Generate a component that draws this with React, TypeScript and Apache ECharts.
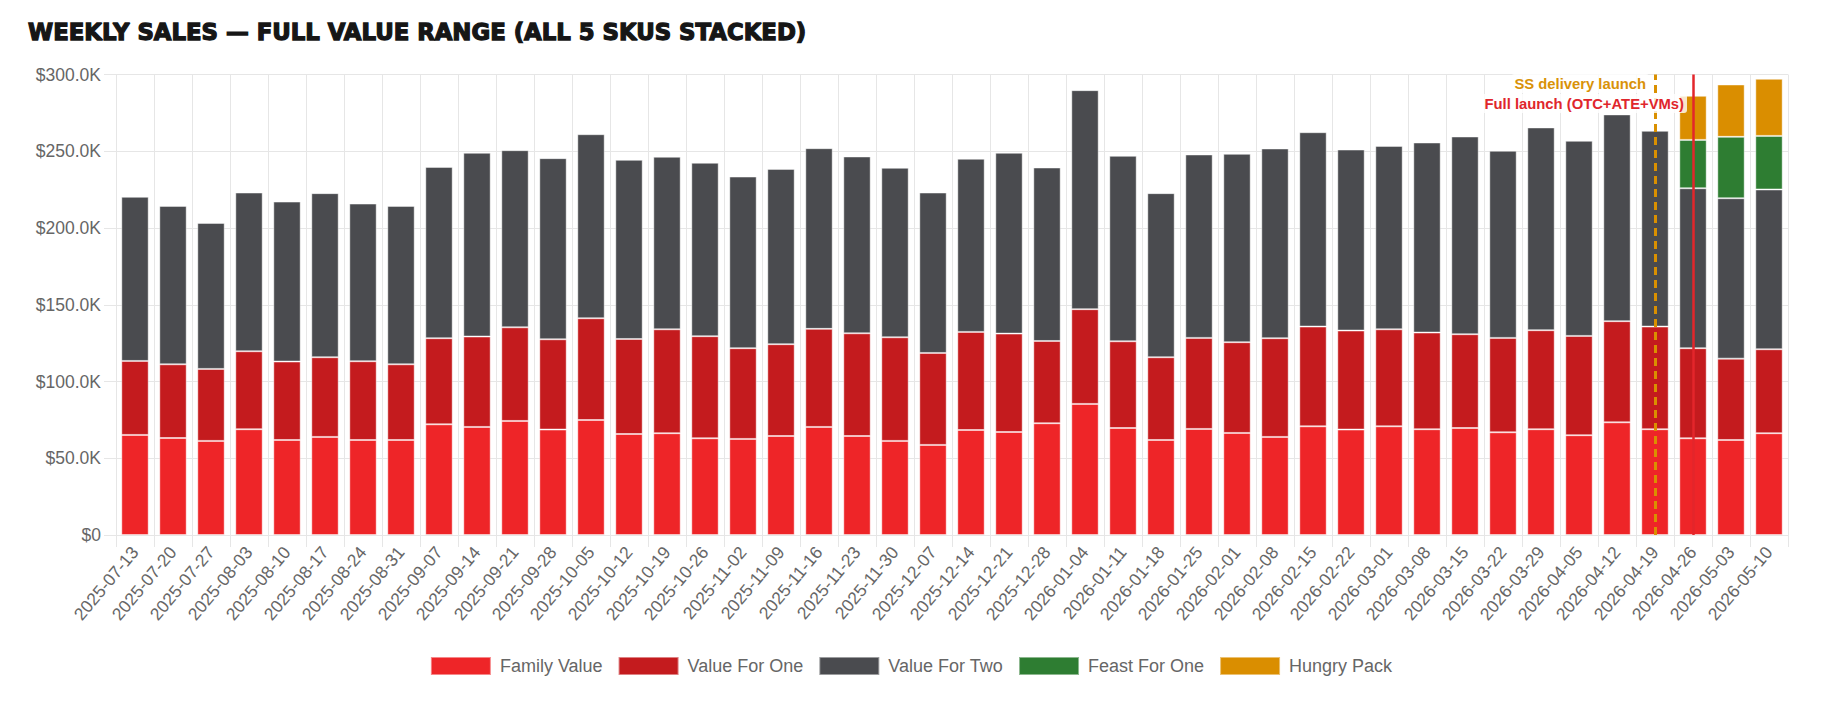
import React, { useEffect, useRef } from "react";
import * as echarts from "echarts";

const weeks = [
  "2025-07-13", "2025-07-20", "2025-07-27", "2025-08-03", "2025-08-10", "2025-08-17",
  "2025-08-24", "2025-08-31", "2025-09-07", "2025-09-14", "2025-09-21", "2025-09-28",
  "2025-10-05", "2025-10-12", "2025-10-19", "2025-10-26", "2025-11-02", "2025-11-09",
  "2025-11-16", "2025-11-23", "2025-11-30", "2025-12-07", "2025-12-14", "2025-12-21",
  "2025-12-28", "2026-01-04", "2026-01-11", "2026-01-18", "2026-01-25", "2026-02-01",
  "2026-02-08", "2026-02-15", "2026-02-22", "2026-03-01", "2026-03-08", "2026-03-15",
  "2026-03-22", "2026-03-29", "2026-04-05", "2026-04-12", "2026-04-19", "2026-04-26",
  "2026-05-03", "2026-05-10",
];

const familyValue = [
  65200, 63200, 61300, 68900, 61900, 63900, 61900, 61900, 72100, 70400, 74300, 68700,
  74900, 65800, 66300, 63000, 62600, 64500, 70400, 64500, 61300, 58700, 68400, 67100,
  72800, 85400, 69700, 61900, 69100, 66500, 63900, 70800, 68700, 70800, 68900, 69700,
  66900, 68900, 65000, 73400, 68900, 63000, 61900, 66300,
];

const valueForOne = [
  48200, 48000, 46900, 50800, 51100, 51900, 51300, 49300, 56100, 58900, 61000, 58800,
  66300, 61900, 67700, 66500, 59100, 59800, 63900, 66900, 67500, 59900, 63900, 64100,
  53600, 61700, 56500, 53900, 59300, 59100, 64300, 65000, 64500, 63200, 63000, 61100,
  61500, 64500, 64700, 65900, 66900, 58700, 53000, 54700,
];

const valueForTwo = [
  106900, 103200, 95100, 103400, 104200, 106900, 102700, 103200, 111600, 119700, 115400, 118000,
  119900, 116700, 112400, 113000, 111800, 114200, 117700, 115200, 110400, 104500, 112800, 117800,
  113000, 142700, 120800, 106900, 119500, 122700, 123600, 126600, 117900, 119500, 123800, 128800,
  121900, 132100, 127100, 134700, 127500, 104200, 104500, 104100,
];

const feastForOne = [
  null, null, null, null, null, null, null, null, null, null, null, null,
  null, null, null, null, null, null, null, null, null, null, null, null,
  null, null, null, null, null, null, null, null, null, null, null, null,
  null, null, null, null, null, 31500, 40000, 34900,
];

const hungryPack = [
  null, null, null, null, null, null, null, null, null, null, null, null,
  null, null, null, null, null, null, null, null, null, null, null, null,
  null, null, null, null, null, null, null, null, null, null, null, null,
  null, null, null, null, null, 28700, 34100, 37200,
];

const seriesNames = ["Family Value", "Value For One", "Value For Two", "Feast For One", "Hungry Pack"];
const seriesColors = ["#EE2528", "#C41B1E", "#4A4B4F", "#2E7D32", "#DA8E00"];

const yTicks = { min: 0, max: 300000, interval: 50000 };

const ssLaunchWeek = "2026-04-19";
const ssLaunchLabel = "SS delivery launch";
const fullLaunchWeek = "2026-04-26";
const fullLaunchLabel = "Full launch (OTC+ATE+VMs)";

const titleText = "WEEKLY SALES — FULL VALUE RANGE (ALL 5 SKUS STACKED)";

const FONT = "'Liberation Sans', Arial, Helvetica, sans-serif";
const GRID = "#e6e6e6";

export default function App() {
  const ref = useRef<HTMLDivElement>(null);

  useEffect(() => {
    if (!ref.current) return;
    const chart = echarts.init(ref.current, null, { renderer: "svg" });
    const data = [familyValue, valueForOne, valueForTwo, feastForOne, hungryPack];

    const series: any[] = seriesNames.map((name, i) => ({
      name,
      type: "bar",
      stack: "total",
      barWidth: "72%",
      data: data[i],
      itemStyle: {
        color: seriesColors[i],
        borderColor: "rgba(255,255,255,0.45)",
        borderWidth: 1,
      },
      emphasis: { disabled: true },
    }));

    series[0].markLine = {
      silent: true,
      symbol: ["none", "none"],
      z: 10,
      label: { show: false },
      data: [
        { xAxis: ssLaunchWeek, lineStyle: { color: "#DA9000", width: 3, type: [8, 5] } },
        { xAxis: fullLaunchWeek, lineStyle: { color: "#E3262B", width: 2.5, type: "solid" } },
      ],
    };

    chart.setOption({
      animation: false,
      backgroundColor: "#ffffff",
      textStyle: { fontFamily: FONT },
      title: {
        text: titleText,
        left: 28,
        top: 20,
        padding: 0,
        textStyle: {
          fontFamily: "'DejaVu Sans', sans-serif",
          fontWeight: "bold",
          fontSize: 22.8,
          color: "#161616",
          textBorderColor: "#161616",
          textBorderWidth: 1.3,
        },
      },
      grid: {
        left: 116,
        right: 34,
        top: 74.5,
        bottom: 173,
        containLabel: false,
        outerBoundsMode: "none",
      },
      legend: {
        data: seriesNames,
        left: "center",
        top: 656,
        padding: 0,
        itemWidth: 60,
        itemHeight: 18,
        itemGap: 15,
        icon: "rect",
        selectedMode: false,
        textStyle: {
          fontFamily: FONT,
          fontSize: 18,
          color: "#666666",
          padding: [0, 0, 0, 4],
        },
      },
      xAxis: {
        type: "category",
        data: weeks,
        boundaryGap: true,
        axisLine: { show: true, lineStyle: { color: GRID, width: 1 } },
        axisTick: { show: true, length: 12, lineStyle: { color: GRID } },
        splitLine: { show: true, lineStyle: { color: GRID, width: 1 } },
        axisLabel: {
          rotate: 50,
          interval: 0,
          fontFamily: FONT,
          fontSize: 17.5,
          color: "#666666",
          margin: 14,
        },
      },
      yAxis: {
        type: "value",
        min: yTicks.min,
        max: yTicks.max,
        interval: yTicks.interval,
        axisLine: { show: true, lineStyle: { color: GRID, width: 1 } },
        axisTick: { show: true, length: 12, lineStyle: { color: GRID } },
        splitLine: { show: true, lineStyle: { color: GRID, width: 1 } },
        axisLabel: {
          fontFamily: FONT,
          fontSize: 17.5,
          color: "#666666",
          margin: 15,
          formatter: (v: number) => (v === 0 ? "$0" : "$" + (v / 1000).toFixed(1) + "K"),
        },
      },
      series,
    });

    const topY = chart.convertToPixel({ yAxisIndex: 0 }, yTicks.max) as number;
    const xSS = chart.convertToPixel({ xAxisIndex: 0 }, ssLaunchWeek) as number;
    const xFull = chart.convertToPixel({ xAxisIndex: 0 }, fullLaunchWeek) as number;

    chart.setOption({
      graphic: [
        {
          type: "text",
          x: xSS - 6,
          y: topY + 9,
          z: 100,
          style: {
            text: ssLaunchLabel,
            fill: "#D99208",
            font: "bold 14.8px 'Liberation Sans', Arial, sans-serif",
            align: "right",
            verticalAlign: "middle",
            backgroundColor: "rgba(255,255,255,0.8)",
            padding: [2, 3],
            borderRadius: 3,
          },
        },
        {
          type: "text",
          x: xFull - 6,
          y: topY + 29,
          z: 100,
          style: {
            text: fullLaunchLabel,
            fill: "#E0262C",
            font: "bold 14.8px 'Liberation Sans', Arial, sans-serif",
            align: "right",
            verticalAlign: "middle",
            backgroundColor: "rgba(255,255,255,0.8)",
            padding: [2, 3],
            borderRadius: 3,
          },
        },
      ],
    });

    return () => chart.dispose();
  }, []);

  return (
    <div
      ref={ref}
      style={{ position: "fixed", left: 0, top: 0, width: 1822, height: 708 }}
    />
  );
}
